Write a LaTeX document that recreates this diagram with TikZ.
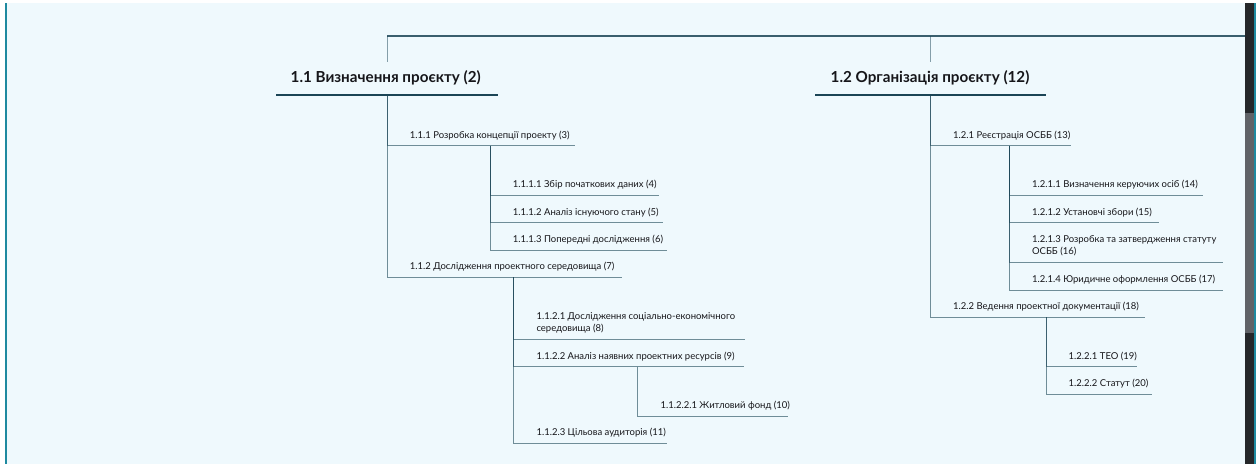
\documentclass[tikz,border=0pt]{standalone}
\usepackage{fontspec}
\setmainfont{Lato}
\definecolor{bg}{RGB}{239,249,253}
\definecolor{lnk}{RGB}{27,69,86}
\definecolor{txt}{RGB}{22,22,26}
\definecolor{rim}{RGB}{30,138,160}
\definecolor{bar}{RGB}{37,39,42}
\definecolor{thumb}{RGB}{96,98,103}
\begin{document}
\begin{tikzpicture}[x=1pt,y=-1pt,
  conn/.style={draw=lnk,line width=1pt,draw opacity=0.6},
  topline/.style={draw=lnk,line width=1.2pt,draw opacity=0.85},
  stub/.style={draw=lnk,line width=1pt,draw opacity=0.5},
  headline/.style={draw=lnk,line width=2.7pt},
  head/.style={anchor=base west,inner sep=0pt,text=txt,font=\fontsize{15.2}{18}\selectfont\bfseries},
  item/.style={anchor=base west,inner sep=0pt,text=txt,align=left,font=\fontsize{9.5}{12.3}\selectfont}]
\useasboundingbox (0,0) rectangle (1256,464);
% window frame and scrollbar
\fill[white] (0,0) rectangle (1256,464);
\fill[bg] (6,3) rectangle (1245,464);
\fill[rim] (5,3) rectangle (6.6,464);
\fill[bar] (1245,3) rectangle (1254,464);
\fill[thumb] (1245,113) rectangle (1254,333);
\fill[rim] (1254,3) rectangle (1256,464);

% ---- branch points and underline ends ----
\coordinate (rootR) at (1245,36);
\coordinate (t1) at (387,36);  \coordinate (t1e) at (387,62);
\coordinate (t2) at (930.5,36); \coordinate (t2e) at (930.5,62);
\coordinate (n1s) at (276,95);  \coordinate (n1e) at (498,95);  \coordinate (n1v) at (387,95);
\coordinate (n2s) at (815,95);  \coordinate (n2e) at (1046,95); \coordinate (n2v) at (930.5,95);

\coordinate (ae) at (575,145.7);   \coordinate (av) at (490,145.7);
\coordinate (a1e) at (659,195);
\coordinate (a2e) at (662.7,222.7);
\coordinate (a3e) at (666.7,250);
\coordinate (be) at (622,277.3);   \coordinate (bv) at (513.7,277.3);
\coordinate (b1e) at (745,339.3);
\coordinate (b2e) at (744.3,366.7); \coordinate (b2v) at (637.7,366.7);
\coordinate (b2ae) at (788.3,416);
\coordinate (b3e) at (667.3,443.3);

\coordinate (ce) at (1070.7,145.7); \coordinate (cv) at (1009.3,145.7);
\coordinate (c1e) at (1202.7,195);
\coordinate (c2e) at (1158.7,222.7);
\coordinate (c3e) at (1223.3,262.3);
\coordinate (c4e) at (1222.7,290);
\coordinate (de) at (1145,317.3);   \coordinate (dv) at (1046,317.3);
\coordinate (d1e) at (1136.7,366.7);
\coordinate (d2e) at (1152.3,394);

% ---- labels (two-line labels are placed by their last baseline) ----
\node[head] (n1) at (290.5,82) {1.1 Визначення проєкту (2)};
\node[head] (n2) at (830.5,82) {1.2 Організація проєкту (12)};

\node[item] (a)   at (409.7,138.2) {1.1.1 Розробка концепції проекту (3)};
\node[item] (a1)  at (512.7,187.5) {1.1.1.1 Збір початкових даних (4)};
\node[item] (a2)  at (512.7,215.2) {1.1.1.2 Аналіз існуючого стану (5)};
\node[item] (a3)  at (512.7,242.5) {1.1.1.3 Попередні дослідження (6)};
\node[item] (b)   at (409.7,269.8) {1.1.2 Дослідження проектного середовища (7)};
\node[item] (b1)  at (536.3,331.7) {1.1.2.1 Дослідження соціально-економічного\\середовища (8)};
\node[item] (b2)  at (536.3,359.2) {1.1.2.2 Аналіз наявних проектних ресурсів (9)};
\node[item] (b2a) at (660.3,408.5) {1.1.2.2.1 Житловий фонд (10)};
\node[item] (b3)  at (536.3,435.8) {1.1.2.3 Цільова аудиторія (11)};

\node[item] (c)   at (953,138.2)  {1.2.1 Реєстрація ОСББ (13)};
\node[item] (c1)  at (1031.9,187.5) {1.2.1.1 Визначення керуючих осіб (14)};
\node[item] (c2)  at (1031.9,215.2) {1.2.1.2 Установчі збори (15)};
\node[item] (c3)  at (1031.9,254.3) {1.2.1.3 Розробка та затвердження статуту\\ОСББ (16)};
\node[item] (c4)  at (1031.9,282.5) {1.2.1.4 Юридичне оформлення ОСББ (17)};
\node[item] (d)   at (953,309.8)  {1.2.2 Ведення проектної документації (18)};
\node[item] (d1)  at (1068.5,359.2) {1.2.2.1 ТЕО (19)};
\node[item] (d2)  at (1068.5,386.5) {1.2.2.2 Статут (20)};

% ---- connectors ----
\draw[topline] (rootR) -- (t1);
\draw[stub] (t1) -- (t1e);
\draw[stub] (t2) -- (t2e);
\draw[headline] (n1s) -- (n1e);
\draw[headline] (n2s) -- (n2e);

\draw[conn] (n1v) |- (ae);
\draw[conn] (n1v) |- (be);
\draw[conn] (av) |- (a1e);
\draw[conn] (av) |- (a2e);
\draw[conn] (av) |- (a3e);
\draw[conn] (bv) |- (b1e);
\draw[conn] (bv) |- (b2e);
\draw[conn] (bv) |- (b3e);
\draw[conn] (b2v) |- (b2ae);

\draw[conn] (n2v) |- (ce);
\draw[conn] (n2v) |- (de);
\draw[conn] (cv) |- (c1e);
\draw[conn] (cv) |- (c2e);
\draw[conn] (cv) |- (c3e);
\draw[conn] (cv) |- (c4e);
\draw[conn] (dv) |- (d1e);
\draw[conn] (dv) |- (d2e);
\end{tikzpicture}
\end{document}
